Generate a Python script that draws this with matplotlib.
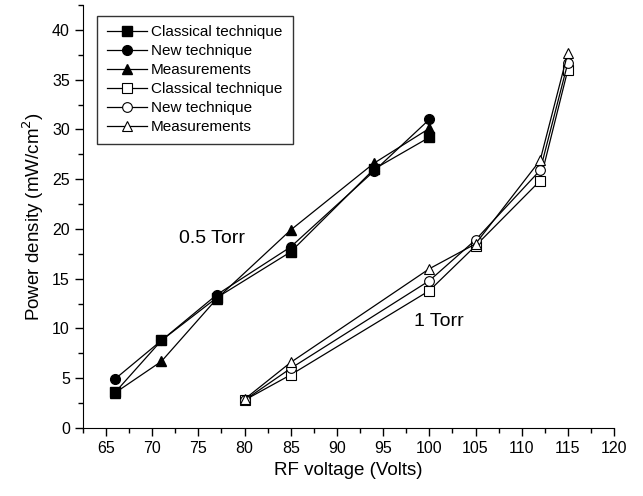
import matplotlib
matplotlib.use('Agg')
import matplotlib.pyplot as plt
from matplotlib.ticker import MultipleLocator

plt.rcParams['font.family'] = ['Liberation Sans', 'DejaVu Sans']

# 0.5 Torr
v_low = [66, 71, 77, 85, 94, 100]
classical_low = [3.6, 8.8, 13.1, 17.7, 26.0, 29.2]
new_low = [4.95, 8.8, 13.4, 18.2, 25.8, 31.0]
meas_low = [3.55, 6.7, 13.0, 19.9, 26.6, 30.1]

# 1 Torr
v_high = [80, 85, 100, 105, 112, 115]
classical_high = [2.8, 5.35, 13.8, 18.3, 24.85, 36.0]
new_high = [2.8, 6.0, 14.8, 18.9, 25.9, 36.7]
meas_high = [2.9, 6.6, 16.0, 18.5, 26.9, 37.7]

labels = ['Classical technique', 'New technique', 'Measurements']

fig = plt.figure(figsize=(6.43, 4.96), dpi=100)
ax = fig.add_axes([0.129, 0.137, 0.826, 0.853])

ms = 7
ax.plot(v_low, classical_low, 'k-s', lw=0.9, ms=ms, label=labels[0])
ax.plot(v_low, new_low, 'k-o', lw=0.9, ms=ms, label=labels[1])
ax.plot(v_low, meas_low, 'k-^', lw=0.9, ms=ms, label=labels[2])
ax.plot(v_high, classical_high, 'k-s', lw=0.9, ms=ms, mfc='white', mew=0.8, label=labels[0])
ax.plot(v_high, new_high, 'k-o', lw=0.9, ms=ms, mfc='white', mew=0.8, label=labels[1])
ax.plot(v_high, meas_high, 'k-^', lw=0.9, ms=ms, mfc='white', mew=0.8, label=labels[2])

ax.text(72.9, 19.0, '0.5 Torr', fontsize=14, va='center', ha='left')
ax.text(98.3, 10.75, '1 Torr', fontsize=14, va='center', ha='left')

ax.set_xlim(62.5, 120)
ax.set_ylim(0, 42.5)
ax.xaxis.set_minor_locator(MultipleLocator(2.5))
ax.yaxis.set_major_locator(MultipleLocator(5))
ax.yaxis.set_minor_locator(MultipleLocator(2.5))
ax.set_xticks(range(65, 121, 5))
ax.tick_params(which='major', direction='out', length=6, width=1, labelsize=11.5)
ax.tick_params(which='minor', direction='out', length=3.5, width=1)
ax.spines['top'].set_visible(False)
ax.spines['right'].set_visible(False)

ax.set_xlabel('RF voltage (Volts)', fontsize=13.5)
ax.set_ylabel('Power density (mW/cm$^2$)', fontsize=13.5)

leg = ax.legend(loc='upper left', bbox_to_anchor=(0.012, 0.993), fontsize=11,
                frameon=True, fancybox=False, edgecolor='black',
                handlelength=2.6, labelspacing=0.32, borderpad=0.65,
                handletextpad=0.3)
leg.get_frame().set_linewidth(1.0)

fig.savefig('out.png', dpi=100)
